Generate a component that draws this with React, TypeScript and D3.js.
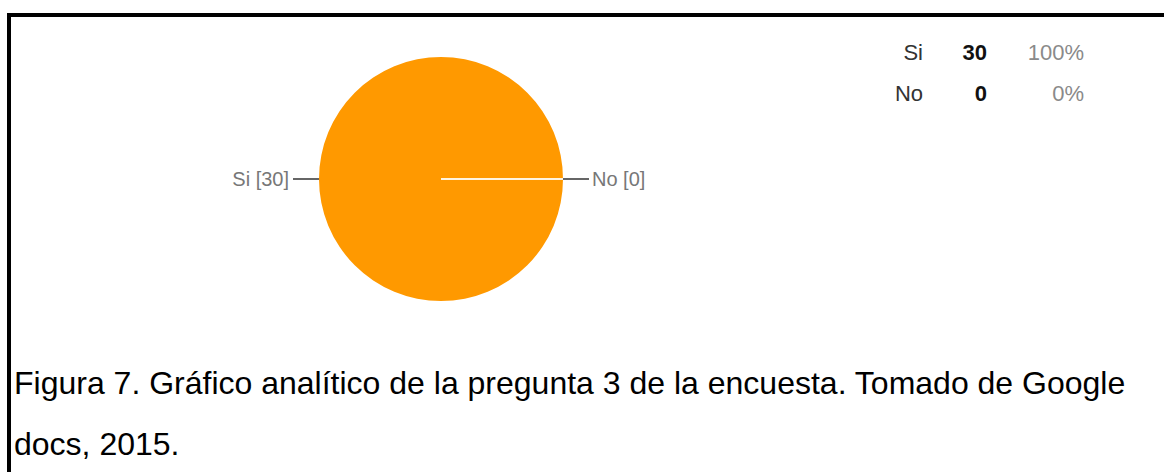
import React from "react";
import * as d3 from "d3";

const categories = ["Si", "No"];
const counts = [30, 0];
const captionLines = [
  "Figura 7. Gráfico analítico de la pregunta 3 de la encuesta. Tomado de Google",
  "docs, 2015.",
];

const W = 1164;
const H = 472;

export default function App() {
  const cx = 441;
  const cy = 179;
  const r = 122;
  const total = d3.sum(counts);
  const data = categories.map((c, i) => ({ name: c, value: counts[i] }));
  const pie = d3
    .pie<{ name: string; value: number }>()
    .value((d) => d.value)
    .sort(null)
    .startAngle(Math.PI / 2)
    .endAngle(Math.PI / 2 + 2 * Math.PI);
  const arcs = pie(data);
  const arcGen = d3.arc<d3.PieArcDatum<{ name: string; value: number }>>().innerRadius(0).outerRadius(r);
  const colors = ["#ff9900", "#dc3912"];
  const fmtPct = d3.format(".0%");

  const font = "'Liberation Sans', Arial, sans-serif";
  const legendY = d3.scalePoint().domain(categories).range([60, 101]);

  return (
    <svg width={W} height={H} style={{ position: "absolute", left: 0, top: 0, background: "#fff" }}>
      <rect x={9} y={15} width={W} height={H} fill="none" stroke="#000" strokeWidth={4} />
      <g transform={`translate(${cx},${cy})`}>
        {arcs.map((a, i) =>
          a.value > 0 ? <path key={i} d={arcGen(a) || ""} fill={colors[i]} /> : null
        )}
        {arcs
          .filter((a) => a.value === 0)
          .map((a, i) => (
            <line
              key={"z" + i}
              x1={0}
              y1={0}
              x2={r * Math.sin(a.startAngle)}
              y2={-r * Math.cos(a.startAngle)}
              stroke="#fff4e0"
              strokeWidth={2}
            />
          ))}
        {arcs.map((a, i) => {
          const mid = (a.startAngle + a.endAngle) / 2;
          const dx = Math.sin(mid);
          const dy = -Math.cos(mid);
          const x1 = r * dx;
          const y1 = r * dy;
          const x2 = (r + 26) * dx;
          const y2 = (r + 26) * dy;
          const right = dx > 0;
          return (
            <g key={"l" + i}>
              <line x1={x1} y1={y1} x2={x2} y2={y2} stroke="#666" strokeWidth={2} />
              <text
                x={x2 + (right ? 3 : -4)}
                y={y2}
                dy="0.35em"
                textAnchor={right ? "start" : "end"}
                fontFamily={font}
                fontSize={20}
                fill="#777"
              >
                {`${a.data.name} [${a.data.value}]`}
              </text>
            </g>
          );
        })}
      </g>
      <g fontFamily={font} fontSize={22}>
        {categories.map((c, i) => {
          const y = legendY(c) || 0;
          return (
            <g key={c}>
              <text x={923} y={y} textAnchor="end" fill="#333">
                {c}
              </text>
              <text x={987} y={y} textAnchor="end" fill="#111" fontWeight="bold">
                {counts[i]}
              </text>
              <text x={1084} y={y} textAnchor="end" fill="#8a8a8a">
                {fmtPct(counts[i] / total)}
              </text>
            </g>
          );
        })}
      </g>
      <g fontFamily={font} fontSize={32} fill="#000">
        {captionLines.map((t, i) => (
          <text key={i} x={14} y={394 + i * 61}>
            {t}
          </text>
        ))}
      </g>
    </svg>
  );
}
